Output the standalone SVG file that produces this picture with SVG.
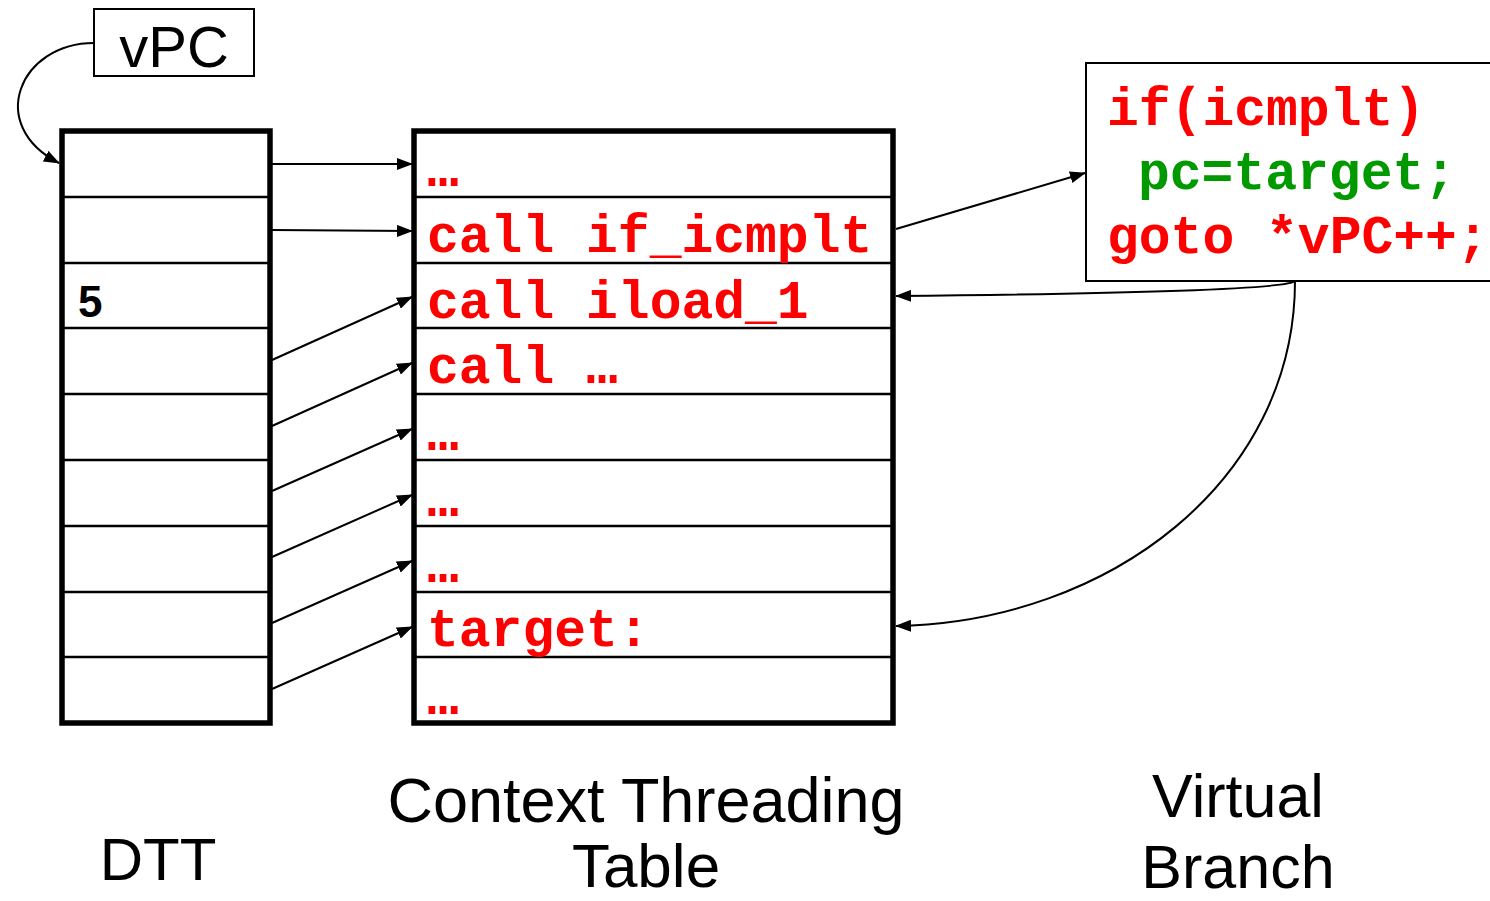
<svg xmlns="http://www.w3.org/2000/svg" width="1490" height="901" viewBox="0 0 1490 901">
  <style>
    .label { font-family: "Liberation Sans", Arial, sans-serif; fill: #000; }
    .code { font-family: "Liberation Mono", "Courier New", monospace; font-weight: bold; font-size: 53px; }
    .red { fill: #ff0000; }
    .green { fill: #009900; }
    .frame { fill: #fff; stroke: #000; stroke-width: 5.5; }
    .row { stroke: #000; stroke-width: 2.5; }
    .wire { fill: none; stroke: #000; stroke-width: 2; marker-end: url(#arrow); }
  </style>
  <defs>
    <marker id="arrow" viewBox="0 0 16 12" refX="15" refY="6" markerWidth="16" markerHeight="12" markerUnits="userSpaceOnUse" orient="auto">
      <path d="M0,0 L16,6 L0,12 Z" fill="#000"/>
    </marker>
  </defs>

  <!-- vPC register -->
  <g id="vpc">
    <rect x="94" y="9" width="160" height="67" fill="#fff" stroke="#000" stroke-width="2"/>
    <text class="label" x="174" y="67" font-size="58" text-anchor="middle">vPC</text>
  </g>

  <!-- DTT column -->
  <g id="dtt">
    <rect class="frame" x="62" y="131" width="208" height="592"/>
    <line class="row" x1="62" y1="197" x2="270" y2="197"/>
    <line class="row" x1="62" y1="263" x2="270" y2="263"/>
    <line class="row" x1="62" y1="328" x2="270" y2="328"/>
    <line class="row" x1="62" y1="394" x2="270" y2="394"/>
    <line class="row" x1="62" y1="460" x2="270" y2="460"/>
    <line class="row" x1="62" y1="526" x2="270" y2="526"/>
    <line class="row" x1="62" y1="592" x2="270" y2="592"/>
    <line class="row" x1="62" y1="657" x2="270" y2="657"/>
    <text class="label" x="78" y="317" font-size="44" font-weight="bold">5</text>
    <text class="label" x="158" y="880" font-size="60" text-anchor="middle">DTT</text>
  </g>

  <!-- Context threading table -->
  <g id="ctt">
    <rect class="frame" x="414" y="131" width="479" height="592"/>
    <line class="row" x1="414" y1="197" x2="893" y2="197"/>
    <line class="row" x1="414" y1="263" x2="893" y2="263"/>
    <line class="row" x1="414" y1="328" x2="893" y2="328"/>
    <line class="row" x1="414" y1="394" x2="893" y2="394"/>
    <line class="row" x1="414" y1="460" x2="893" y2="460"/>
    <line class="row" x1="414" y1="526" x2="893" y2="526"/>
    <line class="row" x1="414" y1="592" x2="893" y2="592"/>
    <line class="row" x1="414" y1="657" x2="893" y2="657"/>
    <text class="code red" x="427" y="186">…</text>
    <text class="code red" x="427" y="252" xml:space="preserve">call if_icmplt</text>
    <text class="code red" x="427" y="318" xml:space="preserve">call iload_1</text>
    <text class="code red" x="427" y="383" xml:space="preserve">call …</text>
    <text class="code red" x="427" y="450">…</text>
    <text class="code red" x="427" y="516">…</text>
    <text class="code red" x="427" y="582">…</text>
    <text class="code red" x="427" y="646">target:</text>
    <text class="code red" x="427" y="714">…</text>
    <text class="label" x="646" y="822" font-size="63" text-anchor="middle">Context Threading</text>
    <text class="label" x="646" y="887" font-size="62" text-anchor="middle">Table</text>
  </g>

  <!-- Virtual branch body -->
  <g id="virtual-branch">
    <rect x="1086" y="63" width="420" height="218" fill="#fff" stroke="#000" stroke-width="2"/>
    <text class="code red" x="1107" y="125">if(icmplt)</text>
    <text class="code green" x="1138" y="189">pc=target;</text>
    <text class="code red" x="1107" y="253" xml:space="preserve">goto *vPC++;</text>
    <text class="label" x="1238" y="817" font-size="61" text-anchor="middle">Virtual</text>
    <text class="label" x="1238" y="888" font-size="61" text-anchor="middle">Branch</text>
  </g>

  <!-- Connectors -->
  <g id="connectors">
    <path class="wire" d="M94,43 C20,43 -15,125 59,163"/>
    <path class="wire" d="M272,164 L412,164"/>
    <path class="wire" d="M272,230 L412,231"/>
    <path class="wire" d="M272,360 L412,297"/>
    <path class="wire" d="M272,426 L412,363"/>
    <path class="wire" d="M272,491 L412,429"/>
    <path class="wire" d="M272,557 L412,495"/>
    <path class="wire" d="M272,623 L412,561"/>
    <path class="wire" d="M272,689 L412,627"/>
    <path class="wire" d="M896,229 L1085,173"/>
    <path class="wire" d="M1295,281 Q1285,292 896,296"/>
    <path class="wire" d="M1295,281 C1295,480 1110,622 896,626"/>
  </g>
</svg>
